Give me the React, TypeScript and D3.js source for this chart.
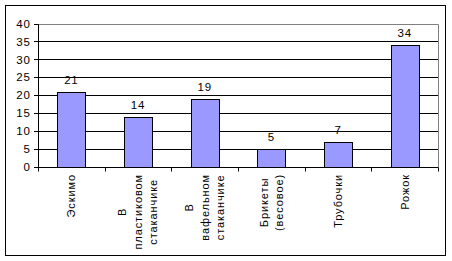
import React, { useEffect, useRef } from "react";
import * as d3 from "d3";

const categories = [
  "Эскимо",
  "В\nпластиковом\nстаканчике",
  "В\nвафельном\nстаканчике",
  "Брикеты\n(весовое)",
  "Трубочки",
  "Рожок",
];
const values = [21, 14, 19, 5, 7, 34];
const yTicks = [0, 5, 10, 15, 20, 25, 30, 35, 40];

const W = 452;
const H = 261;
const FONT = "'Liberation Sans', Arial, sans-serif";

export default function App() {
  const ref = useRef<SVGSVGElement>(null);

  useEffect(() => {
    const svg = d3.select(ref.current);
    svg.selectAll("*").remove();

    const left = 38, right = 438, top = 23.5, bottom = 167;
    const x = d3.scaleBand<string>().domain(categories).range([left, right]).paddingInner(0.58).paddingOuter(0.29);
    const step = (right - left) / categories.length;
    const y = d3.scaleLinear().domain([0, 40]).range([bottom, top]);

    svg.append("rect").attr("x", 0).attr("y", 0).attr("width", W).attr("height", H).attr("fill", "#fff");
    svg.append("rect").attr("x", 5.5).attr("y", 5.5).attr("width", 440).attr("height", 250)
      .attr("fill", "#fff").attr("stroke", "#000").attr("stroke-width", 1);

    // gridlines
    svg.append("g").selectAll("line").data(yTicks.filter(t => t > 0 && t < 40)).join("line")
      .attr("x1", left).attr("x2", right)
      .attr("y1", d => Math.round(y(d)) + 0.5).attr("y2", d => Math.round(y(d)) + 0.5)
      .attr("stroke", "#000");
    // plot area border top/right grey
    const yt = Math.round(y(40)) + 0.5;
    svg.append("line").attr("x1", left).attr("x2", right + 0.5).attr("y1", yt).attr("y2", yt).attr("stroke", "#808080");
    svg.append("line").attr("x1", right + 0.5).attr("x2", right + 0.5).attr("y1", yt).attr("y2", bottom).attr("stroke", "#808080");

    // bars
    svg.append("g").selectAll("rect").data(values).join("rect")
      .attr("x", (d, i) => Math.round(x(categories[i])!) + 0.5)
      .attr("y", d => Math.round(y(d)) + 0.5)
      .attr("width", Math.round(x.bandwidth()))
      .attr("height", d => Math.round(y(0)) - Math.round(y(d)))
      .attr("fill", "#9999FF").attr("stroke", "#000");

    // y axis
    const yb = Math.round(y(0)) + 0.5;
    svg.append("line").attr("x1", left + 0.5).attr("x2", left + 0.5).attr("y1", yt).attr("y2", yb).attr("stroke", "#000");
    svg.append("g").selectAll("line").data(yTicks).join("line")
      .attr("x1", left - 4).attr("x2", left + 0.5)
      .attr("y1", d => Math.round(y(d)) + 0.5).attr("y2", d => Math.round(y(d)) + 0.5)
      .attr("stroke", "#000");
    svg.append("g").selectAll("text").data(yTicks).join("text")
      .attr("x", 31).attr("y", d => y(d)).attr("dy", "0.36em")
      .attr("text-anchor", "end").attr("font-family", FONT).attr("font-size", 11.5)
      .attr("letter-spacing", 1).attr("fill", "#000")
      .text(d => String(d));

    // x axis
    svg.append("line").attr("x1", left).attr("x2", right + 0.5).attr("y1", yb).attr("y2", yb).attr("stroke", "#000");
    svg.append("g").selectAll("line").data(d3.range(categories.length + 1)).join("line")
      .attr("x1", i => Math.round(left + i * step) + 0.5).attr("x2", i => Math.round(left + i * step) + 0.5)
      .attr("y1", yb).attr("y2", yb + 4).attr("stroke", "#000");

    // category labels
    categories.forEach((c) => {
      const lines = c.split("\n");
      const cx = x(c)! + x.bandwidth() / 2;
      const g = svg.append("g");
      const texts = lines.map((ln) =>
        g.append("text")
          .attr("font-family", FONT).attr("font-size", 11).attr("letter-spacing", 0.9)
          .attr("text-anchor", "middle").attr("fill", "#000")
          .text(ln)
      );
      const lens = texts.map(t => (t.node() as SVGTextElement).getComputedTextLength());
      const maxLen = d3.max(lens) || 0;
      const n = lines.length;
      g.attr("transform", `translate(${cx},${174 + maxLen / 2}) rotate(-90)`);
      texts.forEach((t, j) => {
        t.attr("x", 0).attr("y", (j - (n - 1) / 2) * 15.5).attr("dy", "0.36em");
      });
    });

    // data labels
    svg.append("g").selectAll("text").data(values).join("text")
      .attr("x", (d, i) => x(categories[i])! + x.bandwidth() / 2)
      .attr("y", d => y(d) - 8)
      .attr("text-anchor", "middle").attr("font-family", FONT).attr("font-size", 11.5)
      .attr("letter-spacing", 0.8).attr("fill", "#000")
      .text(d => String(d));
  }, []);

  return (
    <svg ref={ref} width={W} height={H} style={{ position: "absolute", left: 0, top: 0, display: "block" }} />
  );
}
